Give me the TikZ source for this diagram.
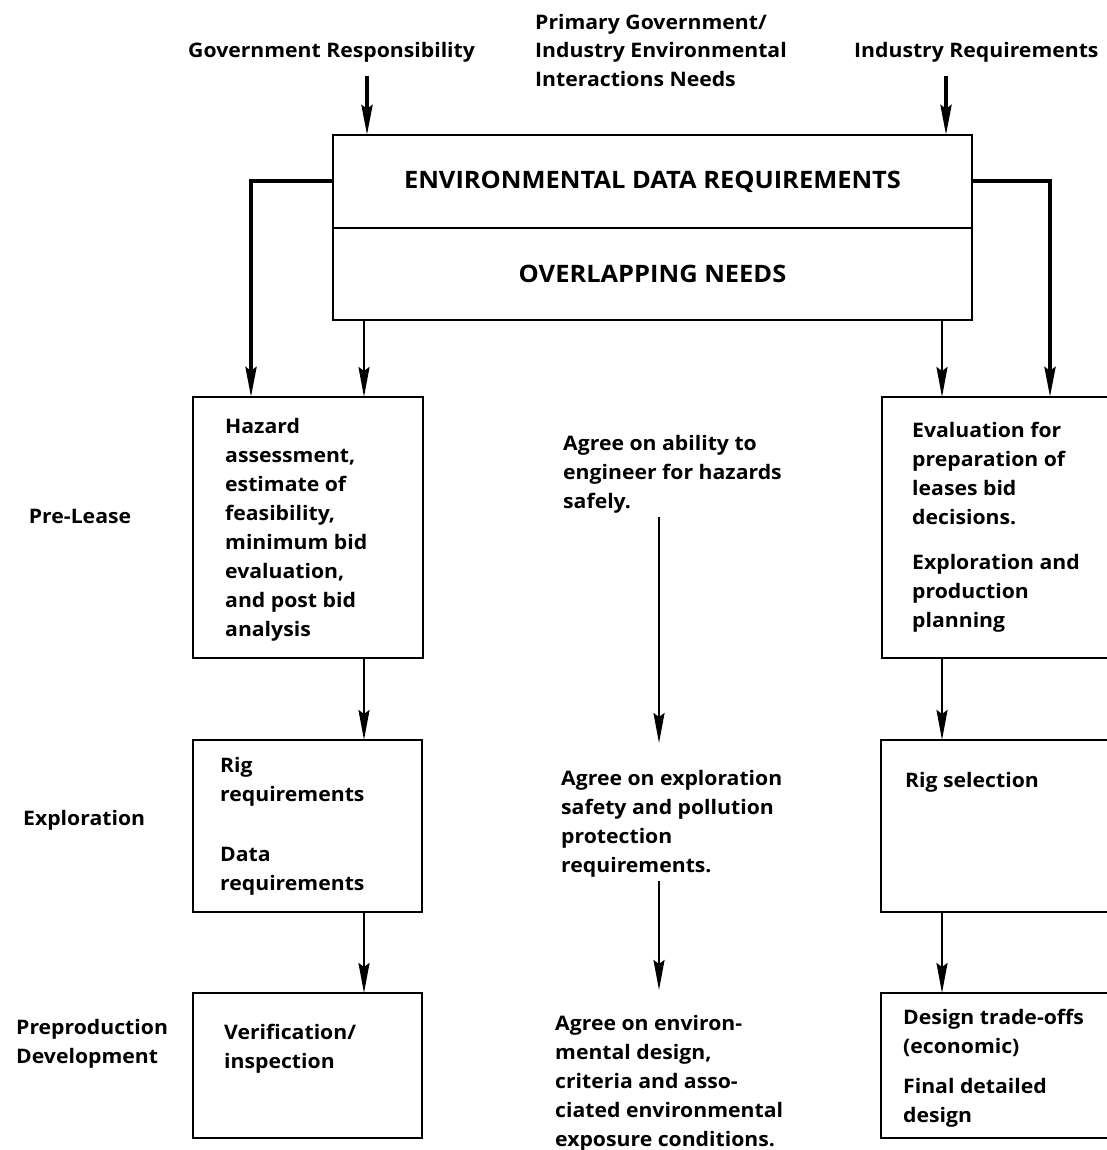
\documentclass[tikz,border=0pt]{standalone}
\usepackage{fontspec}
\setmainfont{Open Sans}[FakeStretch=1.06]
\usepackage{tikz}
\usetikzlibrary{arrows.meta, positioning}

\begin{document}
\begin{tikzpicture}[x=1pt, y=-1pt, >={Stealth[length=30pt, width=11pt, inset=4pt]},
        box/.style={draw, line width=2pt, anchor=north west, inner sep=0pt, outer sep=0pt},
        txt/.style={anchor=north west, align=left, inner sep=0pt, font=\bfseries\fontsize{20}{29}\selectfont},
        big/.style={font=\bfseries\fontsize{24}{29}\selectfont},
        heavy/.style={line width=4pt},
        light/.style={line width=2.4pt}]
    \useasboundingbox (0,0) rectangle (1107,1150);
    \clip (0,0) rectangle (1107,1150);
    % columns of the connectors
    \coordinate (colA) at (251,0);
    \coordinate (colB) at (364,0);
    \coordinate (colG) at (367,0);
    \coordinate (colM) at (659,0);
    \coordinate (colC) at (942,0);
    \coordinate (colI) at (946,0);
    \coordinate (colD) at (1050,0);
    % sources
    \node [txt] (gov) at (188,42) {Government Responsibility};
    \node [txt, font=\bfseries\fontsize{20}{28.5}\selectfont] (prim) at (535,14) {Primary Government/\\Industry Environmental\\Interactions Needs};
    \node [txt] (ind) at (854,42) {Industry Requirements};
    % data requirements
    \node [box, big, minimum width=639pt, minimum height=93pt] (env) at (333,135) {ENVIRONMENTAL DATA REQUIREMENTS};
    \node [box, big, minimum width=639pt, minimum height=92pt] (ovl) at (333,228) {OVERLAPPING NEEDS};
    % phases
    \node [txt, anchor=center] (pre) at (80,516) {Pre-Lease};
    \node [txt, anchor=west] (expl) at (23,820) {Exploration};
    \node [txt, anchor=west] (prep) at (16,1044) {Preproduction\\Development};
    % government column
    \node [box, minimum width=230pt, minimum height=261pt] (haz) at (193,397) {};
    \node [txt] (hazt) at (225,418) {Hazard\\assessment,\\estimate of\\feasibility,\\minimum bid\\evaluation,\\and post bid\\analysis};
    \node [box, minimum width=229pt, minimum height=172pt] (req) at (193,740) {};
    \node [txt] (reqt) at (220,757) {Rig\\requirements\\[31pt]Data\\requirements};
    \node [box, minimum width=229pt, minimum height=145pt] (ver) at (193,993) {};
    \node [txt] (vert) at (224,1024) {Verification/\\inspection};
    % shared column
    \node [txt] (agree1) at (563,435) {Agree on ability to\\engineer for hazards\\safely.};
    \node [txt] (agree2) at (561,770) {Agree on exploration\\safety and pollution\\protection\\requirements.};
    \node [txt] (agree3) at (555,1015) {Agree on environ-\\mental design,\\criteria and asso-\\ciated environmental\\exposure conditions.};
    % industry column
    \node [box, minimum width=240pt, minimum height=261pt] (eval) at (882,397) {};
    \node [txt] (evalt) at (912,422) {Evaluation for\\preparation of\\leases bid\\decisions.\\[16pt]Exploration and\\production\\planning};
    \node [box, minimum width=240pt, minimum height=172pt] (sel) at (881,740) {};
    \node [txt] (selt) at (905,772) {Rig selection};
    \node [box, minimum width=240pt, minimum height=145pt] (des) at (881,993) {};
    \node [txt] (dest) at (903,1009) {Design trade-offs\\(economic)\\[11pt]Final detailed\\design};
    % connectors
    \draw [->, heavy, shorten <=14pt] (gov.south -| colG) -- (env.north -| colG);
    \draw [->, heavy, shorten <=14pt] (ind.south -| colI) -- (env.north -| colI);
    \draw [->, heavy] (env.west) -| (haz.north -| colA);
    \draw [->, heavy] (env.east) -| (eval.north -| colD);
    \draw [->, light] (ovl.south -| colB) -- (haz.north -| colB);
    \draw [->, light] (ovl.south -| colC) -- (eval.north -| colC);
    \draw [->, light] (haz.south -| colB) -- (req.north -| colB);
    \draw [->, light] (req.south -| colB) -- (ver.north -| colB);
    \draw [->, light] (eval.south -| colC) -- (sel.north -| colC);
    \draw [->, light] (sel.south -| colC) -- (des.north -| colC);
    \draw [->, light, shorten <=4pt, shorten >=27pt] (agree1.south -| colM) -- (agree2.north -| colM);
    \draw [->, light, shorten <=4pt, shorten >=25pt] (agree2.south -| colM) -- (agree3.north -| colM);
\end{tikzpicture}
\end{document}
